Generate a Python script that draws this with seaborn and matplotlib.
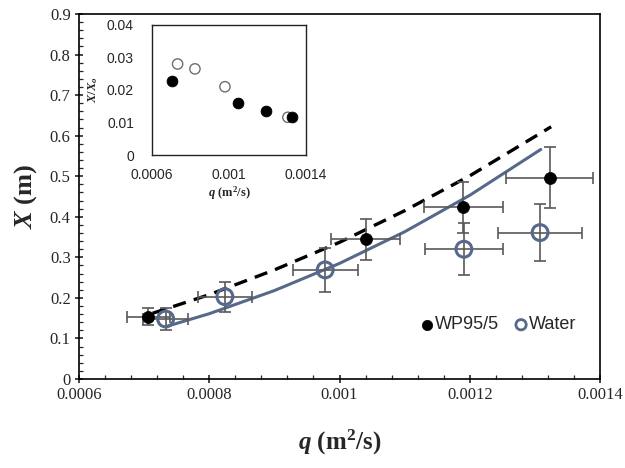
import numpy as np
import pandas as pd
import matplotlib
matplotlib.use('Agg')
import matplotlib.pyplot as plt
import seaborn as sns
from matplotlib.ticker import MultipleLocator

# done yo, li sou grafik la
q_wp = [0.000706, 0.00104, 0.00119, 0.001323]
X_wp = [0.153, 0.344, 0.423, 0.496]
qerr_wp = [0.000033, 0.000053, 0.000061, 0.000067]
Xerr_wp = [0.021, 0.051, 0.064, 0.075]

q_water = [0.000733, 0.000824, 0.000978, 0.001191, 0.001308]
X_water = [0.148, 0.203, 0.269, 0.320, 0.361]
qerr_water = [0.000034, 0.000042, 0.00005, 0.00006, 0.000065]
Xerr_water = [0.028, 0.037, 0.054, 0.064, 0.071]

# liy modèl yo
q_dash = [0.000713, 0.0008, 0.0009, 0.001, 0.0011, 0.0012, 0.001325]
X_dash = [0.162, 0.208, 0.269, 0.337, 0.415, 0.501, 0.622]
q_solid = [0.000733, 0.0008, 0.0009, 0.001, 0.0011, 0.0012, 0.001309]
X_solid = [0.129, 0.161, 0.218, 0.285, 0.363, 0.453, 0.566]

# ensè a: X/X0
q_in_wp = [0.000706, 0.001045, 0.00119, 0.001325]
r_in_wp = [0.0229, 0.0161, 0.0135, 0.0116]
q_in_water = [0.000733, 0.000823, 0.000979, 0.001306]
r_in_water = [0.028, 0.0265, 0.021, 0.0116]

sns.set_style('ticks')
plt.rcParams['font.family'] = ['Liberation Serif', 'DejaVu Serif']
plt.rcParams['mathtext.fontset'] = 'custom'
plt.rcParams['mathtext.rm'] = 'Liberation Serif'
plt.rcParams['mathtext.it'] = 'Liberation Serif:italic:bold'
plt.rcParams['mathtext.bf'] = 'Liberation Serif:bold'

blue = '#56698a'
grey = '#595959'

fig = plt.figure(figsize=(6.25, 4.68), dpi=100)
ax = fig.add_axes([0.1264, 0.1902, 0.8336, 0.7798])

sns.lineplot(x=q_dash, y=X_dash, ax=ax, color='black', lw=2.4,
             linestyle=(0, (4, 2.5)), zorder=2)
sns.lineplot(x=q_solid, y=X_solid, ax=ax, color=blue, lw=2.2, zorder=2)

ax.errorbar(q_wp, X_wp, xerr=qerr_wp, yerr=Xerr_wp, fmt='none',
            ecolor=grey, elinewidth=1.2, capsize=4, capthick=1.2, zorder=3)
ax.errorbar(q_water, X_water, xerr=qerr_water, yerr=Xerr_water, fmt='none',
            ecolor=grey, elinewidth=1.2, capsize=4, capthick=1.2, zorder=3)

df_wp = pd.DataFrame({'q': q_wp, 'X': X_wp})
df_water = pd.DataFrame({'q': q_water, 'X': X_water})
sns.scatterplot(data=df_wp, x='q', y='X', ax=ax, color='black', s=75,
                edgecolor='black', linewidth=0.5, zorder=4, label='WP95/5')
sns.scatterplot(data=df_water, x='q', y='X', ax=ax, facecolor='none', s=130,
                edgecolor=blue, linewidth=2.2, zorder=4, label='Water')

ax.set_xlim(0.0006, 0.0014)
ax.set_ylim(0, 0.9)
ax.xaxis.set_major_locator(MultipleLocator(0.0002))
ax.xaxis.set_minor_locator(MultipleLocator(0.00004))
ax.yaxis.set_major_locator(MultipleLocator(0.1))
ax.yaxis.set_minor_locator(MultipleLocator(0.02))
ax.set_xticks([0.0006, 0.0008, 0.001, 0.0012, 0.0014])
ax.set_xticklabels(['0.0006', '0.0008', '0.001', '0.0012', '0.0014'])
ax.set_yticks([0, 0.1, 0.2, 0.3, 0.4, 0.5, 0.6, 0.7, 0.8, 0.9])
ax.set_yticklabels(['0', '0.1', '0.2', '0.3', '0.4', '0.5', '0.6', '0.7', '0.8', '0.9'])
ax.tick_params(axis='both', which='major', labelsize=12, length=6, width=1.2, direction='inout', pad=3)
ax.tick_params(axis='both', which='minor', length=3, width=0.9, direction='in')
for s in ax.spines.values():
    s.set_linewidth(1.2)
    s.set_color('black')

ax.set_xlabel(r'$q$ (m$^\mathbf{2}$/s)', fontsize=18, fontweight='bold', labelpad=18)
ax.set_ylabel(r'$X$ (m)', fontsize=19, fontweight='bold', labelpad=8)

leg = ax.legend(loc='center right', bbox_to_anchor=(0.955, 0.148), frameon=False,
                ncol=2, handlelength=0.6, handletextpad=0.15, columnspacing=0.9,
                borderaxespad=0, borderpad=0,
                prop={'family': 'Liberation Sans', 'size': 13})
hs = leg.legend_handles
hs[0].set_sizes([55])
hs[1].set_sizes([55])
hs[1].set_linewidth(2.0)

# ensè
axi = fig.add_axes([0.2432, 0.6688, 0.2464, 0.2778])
sns.scatterplot(x=q_in_water, y=r_in_water, ax=axi, facecolor='none', s=55,
                edgecolor='#6e6e6e', linewidth=1.0, zorder=3)
sns.scatterplot(x=q_in_wp, y=r_in_wp, ax=axi, color='black', s=60,
                edgecolor='black', zorder=4)
axi.set_xlim(0.0006, 0.0014)
axi.set_ylim(0, 0.04)
axi.set_xticks([0.0006, 0.001, 0.0014])
axi.set_xticklabels(['0.0006', '0.001', '0.0014'], family='Liberation Sans')
axi.set_yticks([0, 0.01, 0.02, 0.03, 0.04])
axi.set_yticklabels(['0', '0.01', '0.02', '0.03', '0.04'], family='Liberation Sans')
axi.tick_params(axis='both', labelsize=10, length=0)
axi.tick_params(axis='x', pad=9)
axi.tick_params(axis='y', pad=13)
for s in axi.spines.values():
    s.set_linewidth(1.0)
    s.set_color('#222222')
axi.set_xlabel(r'$q$ (m$^\mathbf{2}$/s)', fontsize=9, fontweight='bold', labelpad=2)
axi.set_ylabel(r'$X$/$X_\mathit{o}$', fontsize=9, fontweight='bold', labelpad=5)

fig.savefig('out.png', dpi=100)
